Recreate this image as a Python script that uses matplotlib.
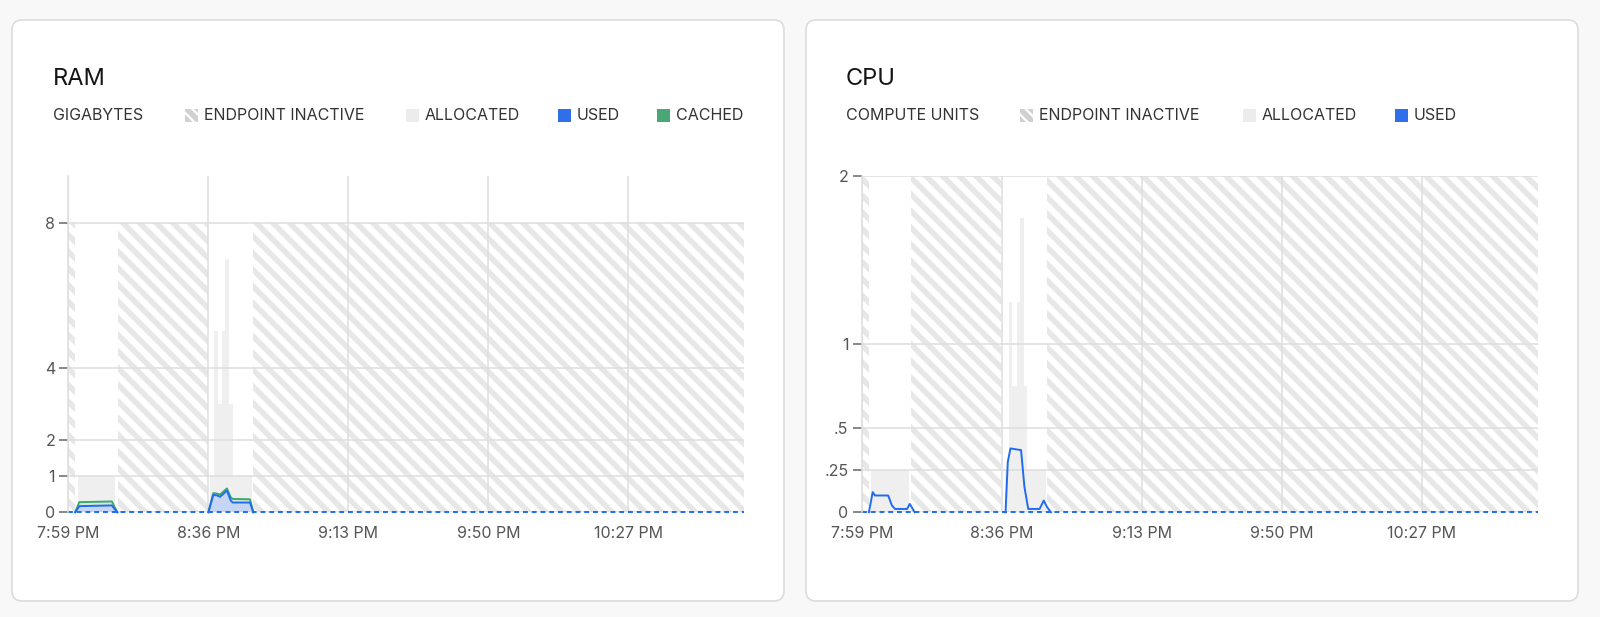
import matplotlib.pyplot as plt
import numpy as np
from matplotlib.patches import FancyBboxPatch, Rectangle

plt.rcParams["font.family"] = ["Inter", "DejaVu Sans"]
plt.rcParams["hatch.color"] = "#e7e7e7"
plt.rcParams["hatch.linewidth"] = 4.0

# x axis: minutes after 7:59 PM
x_max = 178.6
tick_minutes = [0, 37, 74, 111, 148]
tick_labels = ["7:59 PM", "8:36 PM", "9:13 PM", "9:50 PM", "10:27 PM"]

# periods where the endpoint was inactive (start, end) in minutes
inactive = [(0, 1.9), (13.0, 36.9), (48.9, 178.6)]

# RAM, gigabytes
ram_ticks = [0, 1, 2, 4, 8]
ram_top = 8
ram_alloc_edges = [2.6, 12.4, 37.4, 38.5, 39.5, 40.5, 41.5, 42.5, 43.4, 48.6]
ram_alloc = [1, 0, 1, 5, 3, 5, 7, 3, 1]
ram_t = [1.8, 2.9, 7.0, 11.5, 12.95, np.nan,
         37.0, 38.3, 39.2, 40.1, 41.9, 42.9, 43.4, 48.0, 48.9]
ram_used = [0, 0.17, 0.18, 0.19, 0, np.nan,
            0, 0.48, 0.47, 0.43, 0.60, 0.33, 0.27, 0.27, 0]
ram_cached = [0, 0.28, 0.29, 0.30, 0, np.nan,
              0, 0.53, 0.52, 0.49, 0.66, 0.42, 0.37, 0.36, 0]

# CPU, compute units
cpu_ticks = [0, 0.25, 0.5, 1, 2]
cpu_tick_labels = ["0", ".25", ".5", "1", "2"]
cpu_top = 2
cpu_alloc_edges = [2.45, 12.4, 37.8, 38.8, 39.8, 40.9, 41.8, 42.8, 43.8, 48.8]
cpu_alloc = [0.25, 0, 0.25, 1.25, 0.75, 1.25, 1.75, 0.75, 0.25]
cpu_t = [1.9, 2.9, 3.5, 7.0, 8.0, 8.8, 12.0, 12.7, 14.0, np.nan,
         38.0, 38.6, 39.3, 40.6, 42.1, 43.0, 44.0, 47.0, 48.1, 49.0, 50.0]
cpu_used = [0, 0.12, 0.10, 0.10, 0.04, 0.02, 0.02, 0.05, 0, np.nan,
            0, 0.30, 0.38, 0.375, 0.37, 0.15, 0.02, 0.02, 0.07, 0.03, 0]

BLUE = "#1f6bf2"
GREEN = "#3fa86c"
GRID = "#dedede"
ALLOC = "#efefef"
LABEL = 11.5

fig = plt.figure(figsize=(16, 6.17), dpi=100, facecolor="#f8f8f8")

# background layer in pixel units for the cards and legends
bg = fig.add_axes([0, 0, 1, 1], zorder=-1)
bg.set_xlim(0, 1600)
bg.set_ylim(617, 0)
bg.axis("off")

for left in (12, 806):
    bg.add_patch(FancyBboxPatch((left, 20), 772, 581,
                                boxstyle="round,pad=0,rounding_size=10",
                                fc="white", ec="#dcdcdc", lw=1.2))


def legend_row(x0, title, unit, items):
    bg.text(x0, 79, title, fontsize=17, color="#151515", va="center")
    bg.text(x0, 115, unit, fontsize=LABEL, color="#333333", va="center")
    for sx, kind, label in items:
        if kind == "hatch":
            bg.add_patch(Rectangle((sx, 108.5), 13, 13, fc="white",
                                   ec="#d0d0d0", lw=0, hatch="\\\\\\"))
        else:
            bg.add_patch(Rectangle((sx, 108.5), 13, 13, fc=kind, lw=0))
        bg.text(sx + 19, 115, label, fontsize=LABEL, color="#333333",
                va="center")


legend_row(53, "RAM", "GIGABYTES",
           [(185, "hatch", "ENDPOINT INACTIVE"),
            (406, "#ececec", "ALLOCATED"),
            (558, "#2f70ea", "USED"),
            (657, "#4aa877", "CACHED")])
legend_row(846, "CPU", "COMPUTE UNITS",
           [(1020, "hatch", "ENDPOINT INACTIVE"),
            (1243, "#ececec", "ALLOCATED"),
            (1395, "#2f70ea", "USED")])


def setup_axes(ax, ymax, yticks, ylabels):
    ax.set_xlim(0, x_max)
    ax.set_ylim(0, ymax)
    ax.set_xticks(tick_minutes, tick_labels)
    ax.set_yticks(yticks, ylabels)
    ax.grid(True, color=GRID, lw=1.1)
    for side in ("top", "right", "bottom"):
        ax.spines[side].set_visible(False)
    ax.spines["left"].set_color(GRID)
    ax.spines["left"].set_linewidth(1.1)
    ax.tick_params(axis="y", length=6.5, width=1.1, color="#666666",
                   labelsize=LABEL, labelcolor="#555555", pad=3)
    ax.tick_params(axis="x", length=0, labelsize=LABEL,
                   labelcolor="#555555", pad=10)
    ax.set_facecolor("none")


def draw_inactive(ax, top):
    for a, b in inactive:
        ax.fill_between([a, b], 0, top, facecolor="none", edgecolor="#e7e7e7",
                        hatch="\\\\", linewidth=0, zorder=1)


def zero_line(ax):
    ax.axhline(0, color=BLUE, lw=1.4, dashes=(2.5, 2), zorder=2.5,
               clip_on=False)


ax_ram = fig.add_axes([68.3 / 1600, 1 - 512.3 / 617, 676 / 1600, 336.3 / 617])
setup_axes(ax_ram, 9.3, ram_ticks, [str(v) for v in ram_ticks])
draw_inactive(ax_ram, ram_top)
ax_ram.stairs(ram_alloc, ram_alloc_edges, fill=True, color=ALLOC, zorder=1)
zero_line(ax_ram)
rt = np.array(ram_t)
ru = np.array(ram_used)
rc = np.array(ram_cached)
ok = np.isfinite(rt)
ax_ram.fill_between(rt, ru, rc, where=ok, color="#d4e8da", lw=0, zorder=2)
ax_ram.fill_between(rt, 0, ru, where=ok, color="#c5d5f5", lw=0, zorder=2)
ax_ram.plot(rt, rc, color=GREEN, lw=1.4, zorder=3, clip_on=False,
            solid_joinstyle="round")
ax_ram.plot(rt, ru, color=BLUE, lw=1.4, zorder=3, clip_on=False,
            solid_joinstyle="round")

ax_cpu = fig.add_axes([861.7 / 1600, 1 - 512.3 / 617, 676 / 1600, 336.3 / 617])
setup_axes(ax_cpu, 2, cpu_ticks, cpu_tick_labels)
draw_inactive(ax_cpu, cpu_top)
ax_cpu.stairs(cpu_alloc, cpu_alloc_edges, fill=True, color=ALLOC, zorder=1)
zero_line(ax_cpu)
ax_cpu.plot(cpu_t, cpu_used, color=BLUE, lw=1.4, zorder=3, clip_on=False,
            solid_joinstyle="round")

fig.savefig("out.png", dpi=100, facecolor=fig.get_facecolor())
